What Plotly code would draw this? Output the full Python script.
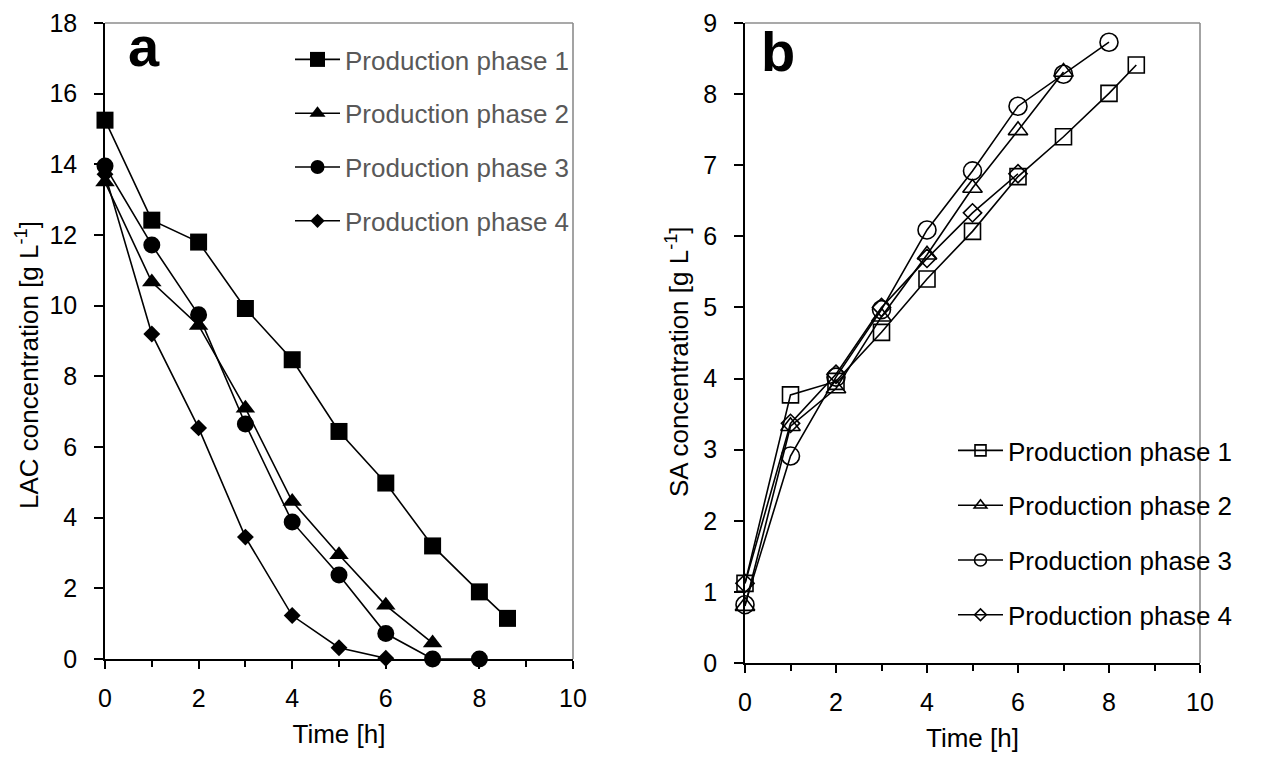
import plotly.graph_objects as go

# ---------------- data ----------------
series_names = ["Production phase 1", "Production phase 2", "Production phase 3", "Production phase 4"]

# Panel a: LAC concentration
lac_t1 = [0, 1, 2, 3, 4, 5, 6, 7, 8, 8.6]
lac_y1 = [15.25, 12.42, 11.8, 9.92, 8.47, 6.44, 4.98, 3.2, 1.9, 1.15]
lac_t2 = [0, 1, 2, 3, 4, 5, 6, 7]
lac_y2 = [13.5, 10.67, 9.44, 7.1, 4.46, 2.95, 1.52, 0.45]
lac_t3 = [0, 1, 2, 3, 4, 5, 6, 7, 8]
lac_y3 = [13.95, 11.72, 9.74, 6.65, 3.88, 2.38, 0.72, 0.0, 0.0]
lac_t4 = [0, 1, 2, 3, 4, 5, 6]
lac_y4 = [13.72, 9.2, 6.54, 3.45, 1.23, 0.32, 0.02]

# Panel b: SA concentration
sa_t1 = [0, 1, 2, 3, 4, 5, 6, 7, 8, 8.6]
sa_y1 = [1.12, 3.77, 3.96, 4.65, 5.4, 6.07, 6.84, 7.4, 8.01, 8.41]
sa_t2 = [0, 1, 2, 3, 4, 5, 6, 7]
sa_y2 = [0.8, 3.33, 3.86, 4.87, 5.74, 6.68, 7.49, 8.31]
sa_t3 = [0, 1, 2, 3, 4, 5, 6, 7, 8]
sa_y3 = [0.82, 2.91, 4.02, 4.97, 6.09, 6.92, 7.83, 8.28, 8.73]
sa_t4 = [0, 1, 2, 3, 4, 5, 6]
sa_y4 = [1.12, 3.37, 4.06, 5.0, 5.69, 6.33, 6.88]

x_ticks = [0, 2, 4, 6, 8, 10]

x_title = "Time [h]"
ya_title = "LAC concentration [g L<sup>-1</sup>]"
yb_title = "SA concentration [g L<sup>-1</sup>]"

FONT = "Liberation Sans, Arial, sans-serif"
BLACK = "#000000"
GRAY_TXT = "#595959"
BORDER = "#8c8c8c"

fig = go.Figure()

filled_symbols = ["square", "triangle-up", "circle", "diamond"]
filled_sizes = [17, 17, 17, 13]
filled_legend_sizes = [15, 14, 14, 11]
open_symbols = ["square-open", "triangle-up-open", "circle-open", "diamond-open"]
open_sizes = [16, 17, 18, 14]
open_legend_sizes = [11, 11, 12, 9]

lac = [(lac_t1, lac_y1), (lac_t2, lac_y2), (lac_t3, lac_y3), (lac_t4, lac_y4)]
sa = [(sa_t1, sa_y1), (sa_t2, sa_y2), (sa_t3, sa_y3), (sa_t4, sa_y4)]

for i, (t, y) in enumerate(lac):
    fig.add_trace(go.Scatter(
        x=t, y=y, mode="lines+markers", name=series_names[i], showlegend=False,
        xaxis="x", yaxis="y",
        line=dict(color=BLACK, width=1.6),
        marker=dict(symbol=filled_symbols[i], size=filled_sizes[i], color=BLACK,
                    line=dict(color=BLACK, width=0)),
        cliponaxis=False,
    ))
    # legend entry (no data drawn)
    fig.add_trace(go.Scatter(
        x=[None], y=[None], mode="lines+markers", name=series_names[i],
        xaxis="x", yaxis="y", legend="legend", legendgroup="a%d" % i,
        line=dict(color=BLACK, width=1.6),
        marker=dict(symbol=filled_symbols[i], size=filled_legend_sizes[i], color=BLACK,
                    line=dict(color=BLACK, width=0)),
    ))

for i, (t, y) in enumerate(sa):
    fig.add_trace(go.Scatter(
        x=t, y=y, mode="lines+markers", name=series_names[i], showlegend=False,
        xaxis="x2", yaxis="y2",
        line=dict(color=BLACK, width=1.6),
        marker=dict(symbol=open_symbols[i], size=open_sizes[i], color=BLACK,
                    line=dict(color=BLACK, width=1.6)),
        cliponaxis=False,
    ))
    fig.add_trace(go.Scatter(
        x=[None], y=[None], mode="lines+markers", name=series_names[i],
        xaxis="x2", yaxis="y2", legend="legend2", legendgroup="b%d" % i,
        line=dict(color=BLACK, width=1.6),
        marker=dict(symbol=open_symbols[i], size=open_legend_sizes[i], color=BLACK,
                    line=dict(color=BLACK, width=1.6)),
    ))

W, H = 1285, 760
ax_common = dict(
    showgrid=False, zeroline=False, showline=True, linecolor=BLACK, linewidth=1.6,
    ticks="outside", tickcolor=BLACK, tickwidth=1.6, automargin=False,
    tickfont=dict(family=FONT, size=25, color=BLACK),
)

xa = dict(ax_common, range=[0, 10], tickvals=x_ticks, ticklen=8,
          minor=dict(dtick=1, ticks="outside", ticklen=6, tickcolor=BLACK, tickwidth=1.6, showgrid=False),
          title=dict(text=x_title, font=dict(family=FONT, size=26, color=BLACK), standoff=14),
          ticklabelstandoff=8)

fig.update_layout(
    width=W, height=H,
    margin=dict(l=0, r=0, t=0, b=0, autoexpand=False),
    paper_bgcolor="white", plot_bgcolor="white",
    font=dict(family=FONT, color=BLACK),
    xaxis=dict(xa, domain=[105 / W, 573 / W], anchor="y"),
    yaxis=dict(ax_common, domain=[1 - 659 / H, 1 - 23 / H], anchor="x", range=[0, 18], dtick=2,
               ticklen=9, ticklabelstandoff=12),
    xaxis2=dict(xa, domain=[745 / W, 1200 / W], anchor="y2"),
    yaxis2=dict(ax_common, domain=[1 - 663 / H, 1 - 23 / H], anchor="x2", range=[0, 9], dtick=1,
                ticklen=9, ticklabelstandoff=12),
    legend=dict(x=290 / W, y=1 - 36 / H, xanchor="left", yanchor="top",
                bgcolor="rgba(0,0,0,0)", font=dict(family=FONT, size=26, color=GRAY_TXT),
                tracegroupgap=17, itemsizing="trace", itemwidth=45),
    legend2=dict(x=953 / W, y=1 - 427 / H, xanchor="left", yanchor="top",
                 bgcolor="rgba(0,0,0,0)", font=dict(family=FONT, size=26, color=BLACK),
                 tracegroupgap=18, itemsizing="trace", itemwidth=45),
    showlegend=True,
)

# gray top/right frame lines
for xr, yr in (("x domain", "y domain"), ("x2 domain", "y2 domain")):
    fig.add_shape(type="line", xref=xr, yref=yr, x0=0, x1=1, y0=1, y1=1,
                  line=dict(color=BORDER, width=1.6), layer="below")
    fig.add_shape(type="line", xref=xr, yref=yr, x0=1, x1=1, y0=0, y1=1,
                  line=dict(color=BORDER, width=1.6), layer="below")

# y-axis titles (slightly below centre, as in the reference)
fig.add_annotation(text=ya_title, xref="paper", yref="paper", x=27 / W, y=1 - 365 / H,
                   xanchor="center", yanchor="middle", textangle=-90, showarrow=False,
                   font=dict(family=FONT, size=26, color=BLACK))
fig.add_annotation(text=yb_title, xref="paper", yref="paper", x=677 / W, y=1 - 362 / H,
                   xanchor="center", yanchor="middle", textangle=-90, showarrow=False,
                   font=dict(family=FONT, size=26, color=BLACK))

# panel letters
fig.add_annotation(text="<b>a</b>", xref="x domain", yref="y domain", x=0.045, y=1.015,
                   xanchor="left", yanchor="top", showarrow=False,
                   font=dict(family=FONT, size=56, color=BLACK))
fig.add_annotation(text="<b>b</b>", xref="x2 domain", yref="y2 domain", x=0.03, y=1.0075,
                   xanchor="left", yanchor="top", showarrow=False,
                   font=dict(family=FONT, size=56, color=BLACK))

fig.write_html("out.html")
